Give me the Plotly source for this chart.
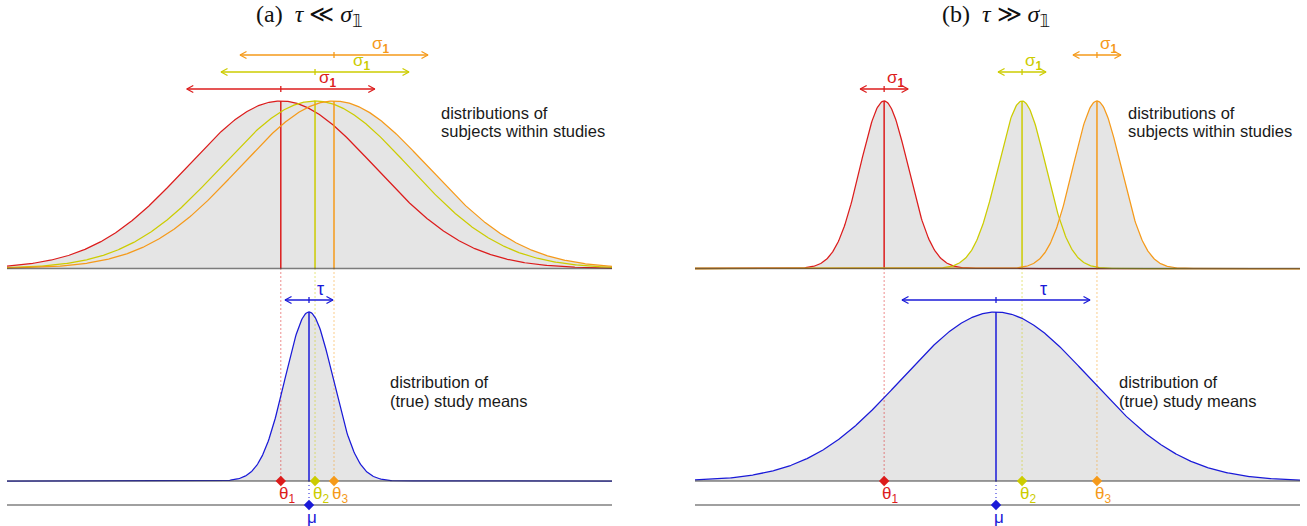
import numpy as np
import plotly.graph_objects as go

# ---------------- data ----------------
panel_titles = [
    "(a)&nbsp;&nbsp;<i>τ</i> ≪ <i>σ</i><sub><span style=\"font-family:DejaVu Sans;color:#111111\">𝟙</span></sub>",
    "(b)&nbsp;&nbsp;<i>τ</i> ≫ <i>σ</i><sub><span style=\"font-family:DejaVu Sans;color:#111111\">𝟙</span></sub>",
]
study_labels = ["θ<sub>1</sub>", "θ<sub>2</sub>", "θ<sub>3</sub>"]
sigma_label = "σ<sub><b>1</b></sub>"
tau_label = "τ"
mu_label = "μ"
top_text = ["distributions of", "subjects within studies"]
bottom_text = ["distribution of", "(true) study means"]

# panel (a): tau << sigma
mu_a = 0.0
tau_a = 0.255
sigma_a = 1.0
theta_a = [-0.30, 0.064, 0.266]

# panel (b): tau >> sigma
mu_b = 0.0
tau_b = 1.0
sigma_b = 0.255
theta_b = [-1.19, 0.277, 1.074]

# ---------------- style / layout ----------------
W, H = 1307, 526
PX = 94.0  # pixels per unit
study_colors = ["#dc1c1c", "#cccc00", "#f59a1a"]
blue = "#1a1ad8"
fill_gray = "#e5e5e5"
base_gray = "rgba(60,60,60,0.65)"
Y_TOP_BASE, Y_TOP_PEAK = 268.5, 101
Y_BOT_BASE, Y_BOT_PEAK = 481, 312
Y_MU = 505
ARROW_Y = [89, 72, 55]
TAU_Y = 300
SANS = "Liberation Sans"

panels = [
    dict(xa="x", ax="xaxis", px0=7, px1=612, mupx=309, mu=mu_a, tau=tau_a, sigma=sigma_a,
         theta=theta_a, title=panel_titles[0], top_tx=439, bot_tx=388),
    dict(xa="x2", ax="xaxis2", px0=695, px1=1300, mupx=996, mu=mu_b, tau=tau_b, sigma=sigma_b,
         theta=theta_b, title=panel_titles[1], top_tx=1126, bot_tx=1117),
]

fig = go.Figure()
annotations = []
layout_axes = {}


def bell(x, c, s, base, peak):
    return base - (base - peak) * np.exp(-0.5 * ((x - c) / s) ** 2)


def arrow(c, w, y):
    dx = 6.5 / PX
    dy = 3.5
    xs = [c - w, c + w, None,
          c - w + dx, c - w, c - w + dx, None,
          c + w - dx, c + w, c + w - dx, None,
          c, c, None]
    ys = [y, y, None,
          y - dy, y, y + dy, None,
          y - dy, y, y + dy, None,
          y - 3, y + 3, None]
    return xs, ys


def add_line(xa, xs, ys, color, width=1.3, dash="solid"):
    fig.add_trace(go.Scatter(x=xs, y=ys, xaxis=xa, yaxis="y", mode="lines",
                             line=dict(color=color, width=width, dash=dash),
                             hoverinfo="skip", showlegend=False))


for p in panels:
    xa = p["xa"]
    xmin = (p["px0"] - p["mupx"]) / PX
    xmax = (p["px1"] - p["mupx"]) / PX
    layout_axes[p["ax"]] = dict(domain=[p["px0"] / W, p["px1"] / W], range=[xmin, xmax],
                                visible=False, anchor="y", fixedrange=True)
    x = np.linspace(xmin, xmax, 800)
    mu, tau, sigma, theta = p["mu"], p["tau"], p["sigma"], p["theta"]

    # top fill (envelope)
    curves = [bell(x, t, sigma, Y_TOP_BASE, Y_TOP_PEAK) for t in theta]
    env = np.min(np.vstack(curves), axis=0)
    fig.add_trace(go.Scatter(x=np.concatenate([x, x[::-1]]),
                             y=np.concatenate([env, np.full_like(x, Y_TOP_BASE)]),
                             xaxis=xa, yaxis="y", mode="lines", fill="toself",
                             fillcolor=fill_gray, line=dict(width=0),
                             hoverinfo="skip", showlegend=False))
    # bottom fill
    bcurve = bell(x, mu, tau, Y_BOT_BASE, Y_BOT_PEAK)
    fig.add_trace(go.Scatter(x=np.concatenate([x, x[::-1]]),
                             y=np.concatenate([bcurve, np.full_like(x, Y_BOT_BASE)]),
                             xaxis=xa, yaxis="y", mode="lines", fill="toself",
                             fillcolor=fill_gray, line=dict(width=0),
                             hoverinfo="skip", showlegend=False))

    # dotted connectors
    for t, col in zip(theta, study_colors):
        add_line(xa, [t, t], [Y_TOP_BASE, Y_BOT_BASE], col, width=1, dash="1px,3px")
    add_line(xa, [mu, mu], [Y_BOT_BASE, Y_MU], blue, width=1, dash="1px,3px")

    # study curves + peak lines
    for t, col, cy in zip(theta, study_colors, curves):
        add_line(xa, [t, t], [Y_TOP_BASE, Y_TOP_PEAK], col, width=1.5)
        add_line(xa, x, cy, col, width=1.25)
    # blue curve + mean line
    add_line(xa, [mu, mu], [Y_BOT_BASE, Y_BOT_PEAK], blue, width=1.5)
    add_line(xa, x, bcurve, blue, width=1.25)

    # baselines (drawn over the curve tails)
    for yb in (Y_TOP_BASE, Y_BOT_BASE, Y_MU):
        add_line(xa, [xmin, xmax], [yb, yb], base_gray, width=1.6)

    # sigma arrows
    for t, col, ay in zip(theta, study_colors, ARROW_Y):
        xs, ys = arrow(t, sigma, ay)
        add_line(xa, xs, ys, col, width=1.3)
        annotations.append(dict(x=t + 0.5 * sigma, y=ay - 10, xref=xa, yref="y", text=sigma_label,
                                showarrow=False, font=dict(family=SANS, size=17, color=col),
                                xanchor="center", yanchor="middle"))
    # tau arrow
    xs, ys = arrow(mu, tau, TAU_Y)
    add_line(xa, xs, ys, blue, width=1.3)
    annotations.append(dict(x=mu + 0.5 * tau, y=TAU_Y - 11, xref=xa, yref="y", text=tau_label,
                            showarrow=False, font=dict(family=SANS, size=18, color=blue),
                            xanchor="center", yanchor="middle"))

    # markers
    fig.add_trace(go.Scatter(x=theta, y=[Y_BOT_BASE] * len(theta), xaxis=xa, yaxis="y",
                             mode="markers", marker=dict(symbol="diamond", size=8, color=study_colors),
                             hoverinfo="skip", showlegend=False))
    fig.add_trace(go.Scatter(x=[mu], y=[Y_MU], xaxis=xa, yaxis="y",
                             mode="markers", marker=dict(symbol="diamond", size=8, color=blue),
                             hoverinfo="skip", showlegend=False))
    for t, col, lab in zip(theta, study_colors, study_labels):
        annotations.append(dict(x=t, y=495, xref=xa, yref="y", text=lab, showarrow=False, xshift=-4,
                                font=dict(family=SANS, size=17, color=col),
                                xanchor="left", yanchor="middle"))
    annotations.append(dict(x=mu, y=517, xref=xa, yref="y", text=mu_label, showarrow=False, xshift=-4,
                            font=dict(family=SANS, size=17, color=blue),
                            xanchor="left", yanchor="middle"))

    # title
    annotations.append(dict(x=mu, y=16, xref=xa, yref="y", text=p["title"], showarrow=False,
                            font=dict(family="Liberation Serif", size=24, color="#111111"),
                            xanchor="center", yanchor="middle"))
    # descriptive text
    tx = (p["top_tx"] - p["mupx"]) / PX
    for i, line in enumerate(top_text):
        annotations.append(dict(x=tx, y=113 + 18 * i, xref=xa, yref="y", text=line, showarrow=False,
                                font=dict(family=SANS, size=16.5, color="#1a1a1a"),
                                xanchor="left", yanchor="middle"))
    bx = (p["bot_tx"] - p["mupx"]) / PX
    for i, line in enumerate(bottom_text):
        annotations.append(dict(x=bx, y=382 + 19 * i, xref=xa, yref="y", text=line, showarrow=False,
                                font=dict(family=SANS, size=16.5, color="#1a1a1a"),
                                xanchor="left", yanchor="middle"))

fig.update_layout(
    width=W, height=H,
    margin=dict(l=0, r=0, t=0, b=0),
    paper_bgcolor="white", plot_bgcolor="white",
    yaxis=dict(range=[H, 0], domain=[0, 1], visible=False, fixedrange=True, anchor="x"),
    annotations=annotations,
    showlegend=False,
    **layout_axes,
)

fig.write_html("out.html", config={"displayModeBar": False},
               post_script="document.body.style.margin='0';document.documentElement.style.overflow='hidden';")
